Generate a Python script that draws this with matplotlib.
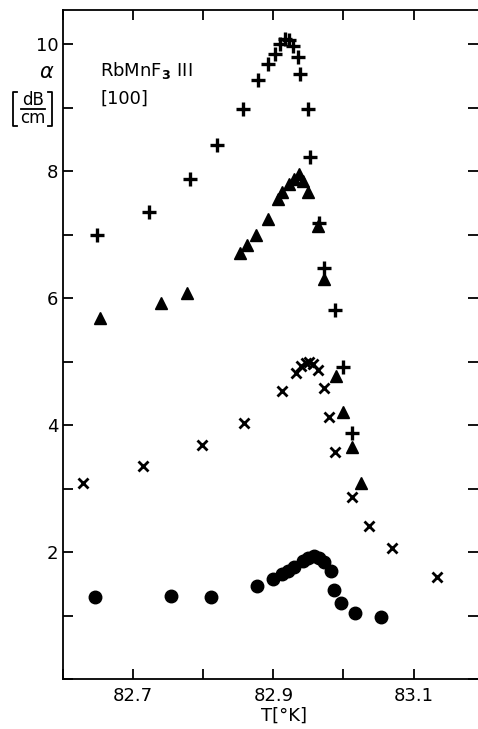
import matplotlib.pyplot as plt
from matplotlib.lines import Line2D
from matplotlib.ticker import MultipleLocator

# temperature [K] / attenuation [dB/cm]
plus_T = [82.649, 82.723, 82.781, 82.819, 82.856, 82.878, 82.893, 82.902, 82.909,
          82.916, 82.922, 82.928, 82.935, 82.938, 82.949, 82.953, 82.965, 82.972,
          82.988, 83.000, 83.012]
plus_a = [7.00, 7.35, 7.88, 8.42, 8.98, 9.44, 9.69, 9.84, 10.00,
          10.08, 10.06, 9.98, 9.80, 9.53, 8.98, 8.23, 7.18, 6.47,
          5.81, 4.92, 3.88]

tri_T = [82.652, 82.740, 82.777, 82.852, 82.862, 82.875, 82.893, 82.906, 82.913,
         82.922, 82.929, 82.936, 82.943, 82.949, 82.963, 82.972, 82.990, 82.999,
         83.012, 83.025]
tri_a = [5.69, 5.92, 6.08, 6.71, 6.83, 6.99, 7.25, 7.57, 7.68,
         7.80, 7.88, 7.95, 7.84, 7.68, 7.13, 6.30, 4.78, 4.21,
         3.65, 3.08]

x_T = [82.629, 82.714, 82.798, 82.858, 82.913, 82.932, 82.939, 82.946, 82.951,
       82.956, 82.963, 82.972, 82.979, 82.988, 83.012, 83.036, 83.070, 83.134]
x_a = [3.08, 3.36, 3.69, 4.04, 4.53, 4.82, 4.93, 4.98, 5.00,
       4.97, 4.87, 4.59, 4.12, 3.57, 2.86, 2.41, 2.06, 1.61]

dot_T = [82.645, 82.754, 82.811, 82.877, 82.899, 82.912, 82.921, 82.929, 82.942,
         82.949, 82.958, 82.965, 82.972, 82.982, 82.986, 82.997, 83.017, 83.053]
dot_a = [1.29, 1.31, 1.29, 1.47, 1.58, 1.65, 1.70, 1.76, 1.86,
         1.91, 1.94, 1.91, 1.84, 1.70, 1.40, 1.20, 1.04, 0.98]

xticks = [82.7, 82.9, 83.1]
yticks = [2, 4, 6, 8, 10]

W, H = 478, 729

def fx(px):
    return px / W

def fy(py):
    return 1 - py / H

plt.rcParams['font.family'] = 'DejaVu Sans'
plt.rcParams['mathtext.fontset'] = 'dejavusans'
fig = plt.figure(figsize=(4.78, 7.29), dpi=100)
ax = fig.add_axes([0.132, 0.0686, 0.868, 0.9177])

ax.plot(plus_T, plus_a, '+', color='black', ms=10, mew=2.4, ls='none')
ax.plot(tri_T, tri_a, '^', color='black', ms=8, ls='none')
ax.plot(x_T, x_a, 'x', color='black', ms=7, mew=2.0, ls='none')
ax.plot(dot_T, dot_a, 'o', color='black', ms=9, ls='none')

ax.set_xlim(82.6, 83.192)
ax.set_ylim(0, 10.54)
ax.set_xticks(xticks)
ax.set_xticklabels([str(v) for v in xticks])
ax.set_yticks(yticks)
ax.xaxis.set_minor_locator(MultipleLocator(0.1))
ax.yaxis.set_minor_locator(MultipleLocator(1))
ax.tick_params(which='both', direction='in', length=7, width=1.3,
               top=True, right=True, labelsize=13)
ax.tick_params(axis='x', pad=6)
ax.spines['right'].set_visible(False)
for s in ['left', 'bottom', 'top']:
    ax.spines[s].set_linewidth(1.3)

ax.text(0.089, 0.909, r'RbMnF$_\mathbf{3}$ III', transform=ax.transAxes,
        fontsize=13, va='center')
ax.text(0.089, 0.868, '[100]', transform=ax.transAxes, fontsize=13, va='center')

# y label: alpha over [dB/cm]
fig.text(fx(47), fy(72), r'$\alpha$', fontsize=15, ha='center', va='center')
fig.text(fx(33), fy(100), 'dB', fontsize=12, ha='center', va='center')
fig.text(fx(33), fy(118), 'cm', fontsize=12, ha='center', va='center')
fig.add_artist(Line2D([fx(21), fx(45)], [fy(109), fy(109)], color='black', lw=1.3,
                      transform=fig.transFigure))
fig.add_artist(Line2D([fx(17), fx(13), fx(13), fx(17)],
                      [fy(92), fy(92), fy(126), fy(126)], color='black', lw=1.3,
                      transform=fig.transFigure))
fig.add_artist(Line2D([fx(48), fx(52), fx(52), fx(48)],
                      [fy(92), fy(92), fy(126), fy(126)], color='black', lw=1.3,
                      transform=fig.transFigure))

fig.text(fx(284), fy(716), 'T[°K]', fontsize=13, ha='center', va='center')

fig.savefig('out.png', dpi=100)
